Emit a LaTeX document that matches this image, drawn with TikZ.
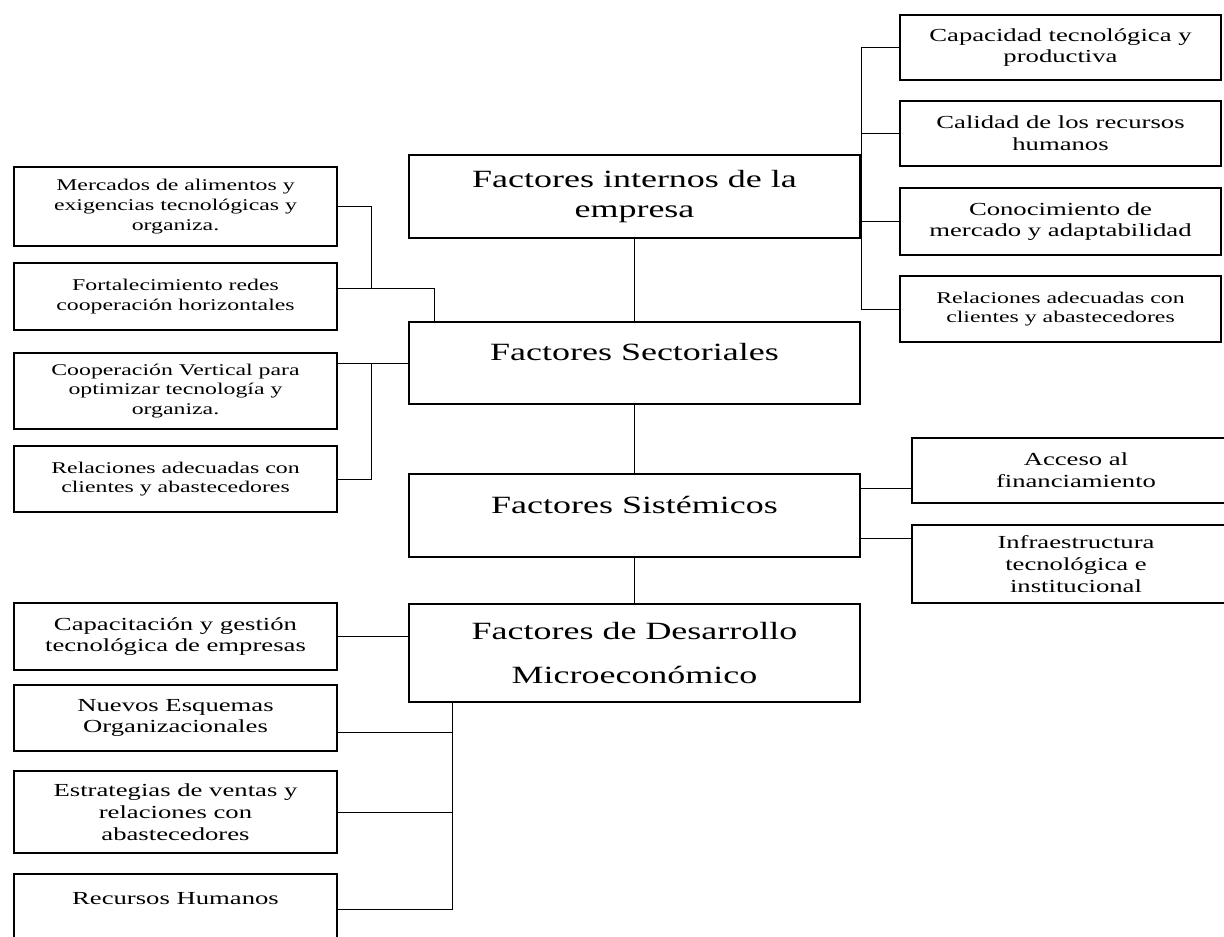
\documentclass[tikz,border=0pt]{standalone}
\usepackage{fontspec}
\setmainfont{Liberation Serif}[FakeStretch=1.45]
\usetikzlibrary{calc}

\begin{document}
\begin{tikzpicture}[x=0.75pt, y=-0.75pt,
        factor/.style 2 args={draw, line width=1.5pt, minimum width=#1*0.75pt, minimum height=#2*0.75pt, inner sep=0pt, align=center},
        big/.style={font=\fontsize{18.6}{22.5}\selectfont},
        mid/.style={font=\fontsize{13.8}{16.3}\selectfont},
        small/.style={font=\fontsize{12.3}{14.7}\selectfont},
        link/.style={line width=0.7pt}]
        \useasboundingbox (0,0) rectangle (1224,936);
        \clip (0,0) rectangle (1224,936);

        \node [factor={451}{83}, big] (intern) at (634.5,196.5) {Factores internos de la\\empresa};
        \node [factor={451}{82}, big] (sect) at (634.5,363) {Factores Sectoriales\\[-6pt]~};
        \node [factor={451}{83}, big] (sist) at (634.5,515.5) {Factores Sistémicos\\[-6pt]~};
        \node [factor={451}{98}, big] (micro) at (634.5,653) {Factores de Desarrollo\\[11pt]Microeconómico};

        \node [factor={321}{65}, mid] (cap) at (1060.5,47.5) {Capacidad tecnológica y\\productiva};
        \node [factor={321}{65}, mid] (cal) at (1060.5,133.5) {Calidad de los recursos\\humanos};
        \node [factor={321}{67}, mid] (con) at (1060.5,221.5) {Conocimiento de\\mercado y adaptabilidad};
        \node [factor={321}{66}, small] (relR) at (1060.5,309) {Relaciones adecuadas con\\clientes y abastecedores};
        \node [factor={328}{65}, mid] (acc) at (1076,470.5) {Acceso al\\financiamiento};
        \node [factor={328}{78}, mid] (inf) at (1076,564) {Infraestructura\\tecnológica e\\institucional};

        \node [factor={323}{79}, small] (merc) at (175.5,206.5) {Mercados de alimentos y\\exigencias tecnológicas y\\organiza.};
        \node [factor={323}{67}, small] (fort) at (175.5,296.5) {Fortalecimiento redes\\cooperación horizontales};
        \node [factor={323}{76}, small] (coop) at (175.5,391) {Cooperación Vertical para\\optimizar tecnología y\\organiza.};
        \node [factor={323}{66}, small] (relL) at (175.5,479) {Relaciones adecuadas con\\clientes y abastecedores};
        \node [factor={323}{67}, mid] (capac) at (175.5,636.5) {Capacitación y gestión\\tecnológica de empresas};
        \node [factor={323}{66}, mid] (nuevos) at (175.5,718) {Nuevos Esquemas\\Organizacionales};
        \node [factor={323}{82}, mid] (estr) at (175.5,812) {Estrategias de ventas y\\relaciones con\\abastecedores};
        \node [factor={323}{71}, mid] (recur) at (175.5,909.5) {Recursos Humanos\\~};

        \coordinate (busA) at (371,288);
        \coordinate (hubA) at (434,288);
        \coordinate (busB) at (371,363);
        \coordinate (busC) at (452,0);

        % spine
        \draw [link] (intern) -- (sect);
        \draw [link] (sect) -- (sist);
        \draw [link] (sist) -- (micro);

        % right side
        \draw [link] (cap.west) -| (intern.east |- relR.west) -- (relR.west);
        \draw [link] (cal.west) -- (cal.west -| intern.east);
        \draw [link] (con.west) -- (con.west -| intern.east);
        \draw [link] ([yshift=-17.5*0.75pt]acc.west) -- ([yshift=-17.5*0.75pt]acc.west -| sist.east);
        \draw [link] ([yshift=26*0.75pt]inf.west) -- ([yshift=26*0.75pt]inf.west -| sist.east);

        % left side
        \draw [link] (merc.east) -| (busA);
        \draw [link] (fort.east |- busA) -- (hubA) -- (hubA |- sect.north);
        \draw [link] (coop.east |- sect.west) -- (sect.west);
        \draw [link] (relL.east) -| (busB);
        \draw [link] (capac.east) -- (capac.east -| micro.west);
        \draw [link] (busC |- micro.south) -- (busC |- recur.east) -- (recur.east);
        \draw [link] ([yshift=-14*0.75pt]nuevos.east) -- ([yshift=-14*0.75pt]nuevos.east -| busC);
        \draw [link] (estr.east) -- (estr.east -| busC);
\end{tikzpicture}
\end{document}
